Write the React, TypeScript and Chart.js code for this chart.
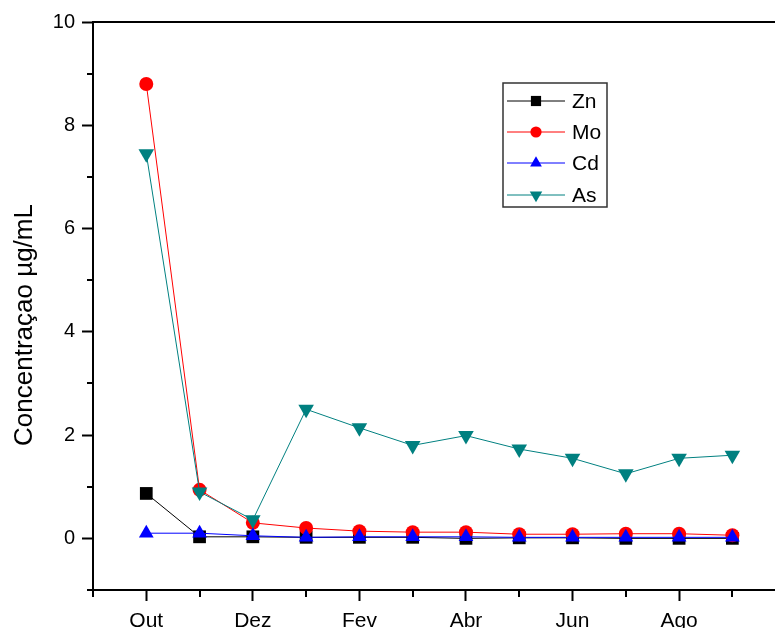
import React, { useEffect, useRef } from "react";
import { Chart, registerables } from "chart.js";

Chart.register(...registerables);

const months = ["Out", "Nov", "Dez", "Jan", "Fev", "Mar", "Abr", "Mai", "Jun", "Jul", "Ago", "Set"];
const znValues = [0.87, 0.03, 0.03, 0.02, 0.02, 0.02, 0.0, 0.01, 0.01, 0.0, 0.0, 0.0];
const moValues = [8.8, 0.94, 0.3, 0.2, 0.14, 0.12, 0.12, 0.08, 0.08, 0.09, 0.09, 0.06];
const cdValues = [0.1, 0.1, 0.05, 0.02, 0.03, 0.03, 0.03, 0.02, 0.02, 0.02, 0.02, 0.02];
const asValues = [7.45, 0.9, 0.36, 2.5, 2.14, 1.8, 1.99, 1.73, 1.55, 1.25, 1.55, 1.61];
const yMajorTicks = [0, 2, 4, 6, 8, 10];
const yMinorTicks = [-1, 1, 3, 5, 7, 9];
const xMajorTicks = [0, 2, 4, 6, 8, 10];
const xMinorTicks = [-1, 1, 3, 5, 7, 9, 11];
const yTitle = "Concentraçao µg/mL";

const FONT = "Arial, 'Liberation Sans', sans-serif";

function marker(ctx: CanvasRenderingContext2D, style: string, rotation: number, r: number, x: number, y: number) {
  ctx.beginPath();
  if (style === "rect") {
    const s = r * Math.SQRT1_2;
    ctx.rect(x - s, y - s, 2 * s, 2 * s);
  } else if (style === "circle") {
    ctx.arc(x, y, r, 0, Math.PI * 2);
  } else {
    const dir = rotation === 180 ? -1 : 1;
    const h = r * 1.5;
    const w = r * Math.sqrt(3) / 2;
    ctx.moveTo(x, y - dir * r);
    ctx.lineTo(x - w, y + dir * (h - r));
    ctx.lineTo(x + w, y + dir * (h - r));
    ctx.closePath();
  }
  ctx.fill();
}

const framePlugin = {
  id: "frame",
  afterDraw(chart: any) {
    const { ctx, chartArea } = chart;
    const x = chart.scales.x;
    const y = chart.scales.y;
    ctx.save();
    ctx.strokeStyle = "#000";
    ctx.lineWidth = 2;
    ctx.beginPath();
    ctx.moveTo(chartArea.left - 1, chartArea.top);
    ctx.lineTo(chartArea.right, chartArea.top);
    ctx.stroke();
    ctx.beginPath();
    yMinorTicks.forEach((v) => {
      const py = Math.round(y.getPixelForValue(v));
      ctx.moveTo(chartArea.left - 6, py);
      ctx.lineTo(chartArea.left, py);
    });
    xMinorTicks.forEach((v) => {
      const px = Math.round(x.getPixelForValue(v));
      ctx.moveTo(px, chartArea.bottom);
      ctx.lineTo(px, chartArea.bottom + 7);
    });
    ctx.stroke();
    ctx.fillStyle = "#000";
    ctx.font = `26px ${FONT}`;
    ctx.translate(32, (y.getPixelForValue(-1) + y.getPixelForValue(10)) / 2 + 19);
    ctx.rotate(-Math.PI / 2);
    ctx.textAlign = "center";
    ctx.textBaseline = "alphabetic";
    ctx.fillText(yTitle, 0, 0);
    ctx.restore();

    ctx.save();
    const bx = 503, by = 83, bw = 104, bh = 124;
    ctx.fillStyle = "#fff";
    ctx.fillRect(bx, by, bw, bh);
    ctx.strokeStyle = "#333";
    ctx.lineWidth = 1.5;
    ctx.strokeRect(bx, by, bw, bh);
    const rows = [101, 132, 163, 195];
    chart.data.datasets.forEach((ds: any, i: number) => {
      const ry = rows[i];
      ctx.strokeStyle = ds.borderColor;
      ctx.lineWidth = 1;
      ctx.beginPath();
      ctx.moveTo(507, ry);
      ctx.lineTo(565, ry);
      ctx.stroke();
      ctx.fillStyle = ds.pointBackgroundColor;
      marker(ctx, ds.pointStyle, ds.pointRotation || 0, ds.pointRadius * 0.8, 536, ry);
      ctx.fillStyle = "#000";
      ctx.font = `21px ${FONT}`;
      ctx.textAlign = "left";
      ctx.textBaseline = "middle";
      ctx.fillText(ds.label, 572, ry + 1);
    });
    ctx.restore();
  },
};

function mk(label: string, data: number[], color: string, style: string, radius: number, rotation: number, order: number) {
  return {
    label,
    data: data.map((v, i) => ({ x: i, y: v })),
    borderColor: color,
    backgroundColor: color,
    pointBackgroundColor: color,
    pointBorderColor: color,
    pointBorderWidth: 0,
    borderWidth: 1,
    pointStyle: style,
    pointRadius: radius,
    pointRotation: rotation,
    order,
    tension: 0,
  };
}

export default function App() {
  const ref = useRef<HTMLCanvasElement>(null);
  useEffect(() => {
    const chart = new Chart(ref.current as HTMLCanvasElement, {
      type: "line",
      data: {
        datasets: [
          mk("Zn", znValues, "#000000", "rect", 9, 0, 4),
          mk("Mo", moValues, "#ff0000", "circle", 7, 0, 3),
          mk("Cd", cdValues, "#0000ff", "triangle", 8.5, 0, 2),
          mk("As", asValues, "#008080", "triangle", 9, 180, 1),
        ] as any,
      },
      options: {
        animation: false,
        responsive: false,
        layout: { autoPadding: false, padding: { top: 22, right: 0, left: 0, bottom: 0 } },
        plugins: { legend: { display: false }, tooltip: { enabled: false } },
        scales: {
          x: {
            type: "linear",
            min: -1,
            max: 11.8,
            afterBuildTicks: (axis: any) => {
              axis.ticks = xMajorTicks.map((v) => ({ value: v }));
            },
            afterFit: (s: any) => {
              s.height = 38;
              s.paddingLeft = 0;
              s.paddingRight = 0;
            },
            ticks: {
              autoSkip: false,
              maxRotation: 0,
              padding: 8,
              color: "#000",
              font: { family: FONT, size: 21 },
              callback: (v: any) => months[v as number],
            },
            grid: {
              drawOnChartArea: false,
              tickLength: 11,
              tickWidth: 2,
              tickColor: "#000",
              color: "#000",
            },
            border: { color: "#000", width: 2 },
          },
          y: {
            min: -1,
            max: 10,
            afterBuildTicks: (axis: any) => {
              axis.ticks = yMajorTicks.map((v) => ({ value: v }));
            },
            afterFit: (s: any) => {
              s.width = 93;
              s.paddingTop = 0;
              s.paddingBottom = 0;
            },
            ticks: {
              padding: 7,
              color: "#000",
              font: { family: FONT, size: 20 },
            },
            grid: {
              drawOnChartArea: false,
              tickLength: 11,
              tickWidth: 2,
              tickColor: "#000",
              color: "#000",
            },
            border: { color: "#000", width: 2 },
          },
        },
      },
      plugins: [framePlugin],
    });
    return () => chart.destroy();
  }, []);
  return (
    <div style={{ position: "absolute", left: 0, top: 0, width: 775, height: 628, background: "#fff" }}>
      <canvas ref={ref} width={775} height={628} style={{ display: "block" }} />
    </div>
  );
}
